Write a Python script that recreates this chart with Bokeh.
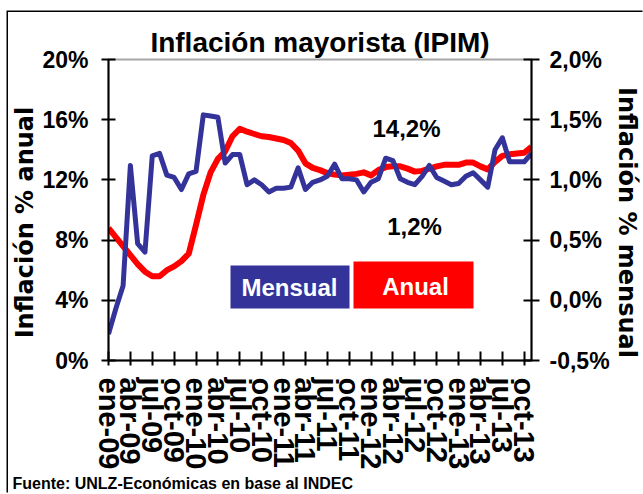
import math
from bokeh.plotting import figure
from bokeh.models import Range1d, LinearAxis, FixedTicker, Label, BoxAnnotation, ColumnDataSource, Title
from bokeh.embed import file_html
from bokeh.resources import INLINE

# ---------------- data ----------------
tick_labels = ["ene-09", "abr-09", "jul-09", "oct-09", "ene-10", "abr-10", "jul-10", "oct-10",
               "ene-11", "abr-11", "jul-11", "oct-11", "ene-12", "abr-12", "jul-12", "oct-12",
               "ene-13", "abr-13", "jul-13", "oct-13"]

# Inflación anual (% i.a.), ene-09 .. nov-13
anual = [8.8, 8.2, 7.6, 7.0, 6.4, 5.9, 5.6, 5.6, 6.0, 6.25, 6.6, 7.1,
         9.0, 11.0, 12.5, 13.4, 13.9, 14.9, 15.4, 15.2, 15.05, 14.9, 14.85, 14.75,
         14.65, 14.45, 13.95, 13.1, 12.8, 12.65, 12.45, 12.35, 12.3, 12.35, 12.4, 12.5,
         12.3, 12.65, 12.85, 12.9, 12.9, 12.75, 12.55, 12.6, 12.75, 12.9, 13.0, 13.0,
         13.0, 13.15, 13.15, 12.9, 12.7, 13.2, 13.6, 13.7, 13.75, 13.8, 14.2]

# Inflación mensual (%), ene-09 .. nov-13
mensual = [-0.28, -0.07, 0.12, 1.12, 0.47, 0.40, 1.20, 1.22, 1.04, 1.02, 0.92, 1.05,
           1.07, 1.54, 1.53, 1.52, 1.14, 1.21, 1.21, 0.96, 1.00, 0.96, 0.90, 0.93,
           0.93, 0.94, 1.10, 0.92, 0.98, 1.00, 1.03, 1.13, 1.01, 1.01, 1.00, 0.90,
           0.98, 1.01, 1.18, 1.16, 1.01, 0.98, 0.96, 1.03, 1.12, 1.02, 0.99, 0.96,
           0.97, 1.03, 1.06, 1.00, 0.94, 1.25, 1.35, 1.15, 1.15, 1.15, 1.22]

left_ticks = [0, 4, 8, 12, 16, 20]
left_labels = ["0%", "4%", "8%", "12%", "16%", "20%"]
right_ticks = [-0.5, 0.0, 0.5, 1.0, 1.5, 2.0]
right_labels = ["-0,5%", "0,0%", "0,5%", "1,0%", "1,5%", "2,0%"]

ultimo_anual = "14,2%"
ultimo_mensual = "1,2%"

# ---------------- figure ----------------
BLUE = "#333399"
RED = "#FF0000"
ARIAL = "Liberation Sans"
WIDE = "DejaVu Sans"
PAD = "\u00a0\u00a0\u00a0"

n = len(anual)
x = list(range(n))
src = ColumnDataSource(data=dict(x=x, anual=anual, mensual=mensual))

p = figure(frame_width=423, frame_height=301,
           min_border_left=99, min_border_right=113, min_border_top=47, min_border_bottom=134,
           x_range=Range1d(0, n - 1), y_range=Range1d(left_ticks[0], left_ticks[-1]),
           output_backend="svg", toolbar_location=None,
           title="Inflación mayorista (IPIM)",
           styles={"margin-left": "8px", "margin-top": "12px",
                   "box-shadow": "-1.5px -1.5px 0 0 black"})
p.extra_y_ranges = {"right": Range1d(right_ticks[0], right_ticks[-1])}

p.title.align = "center"
p.title.text_font = ARIAL
p.title.text_font_style = "bold"
p.title.text_font_size = "28px"
p.title.text_color = "black"
p.title.standoff = 4

p.xgrid.visible = False
p.ygrid.visible = False
p.outline_line_color = "#a6a6a6"
p.outline_line_width = 2
p.background_fill_color = "white"
p.border_fill_color = "white"

# x axis
xa = p.xaxis[0]
xa.ticker = FixedTicker(ticks=[3 * i for i in range(len(tick_labels))])
xa.major_label_overrides = {3 * i: lab for i, lab in enumerate(tick_labels)}
xa.major_label_orientation = "vertical"
xa.major_label_text_font = ARIAL
xa.major_label_text_font_style = "bold"
xa.major_label_text_font_size = "29px"
xa.major_label_text_color = "black"
xa.major_label_standoff = 12
xa.axis_line_width = 2
xa.axis_line_color = "black"
xa.major_tick_line_width = 2
xa.major_tick_line_color = "black"
xa.major_tick_in = 9
xa.major_tick_out = 5
xa.minor_tick_line_color = None

# left axis
ya = p.yaxis[0]
ya.ticker = FixedTicker(ticks=left_ticks)
ya.major_label_overrides = {t: l for t, l in zip(left_ticks, left_labels)}
ya.major_label_text_font = ARIAL
ya.major_label_text_font_style = "bold"
ya.major_label_text_font_size = "23px"
ya.major_label_text_color = "black"
ya.major_label_standoff = 13
ya.axis_line_width = 2
ya.axis_line_color = "black"
ya.major_tick_line_width = 2
ya.major_tick_line_color = "black"
ya.major_tick_in = 7
ya.major_tick_out = 7
ya.minor_tick_line_color = None
ya.axis_label = "Inflación % anual" + PAD
ya.axis_label_text_font = WIDE
ya.axis_label_text_font_style = "bold"
ya.axis_label_text_font_size = "24px"
ya.axis_label_text_color = "black"
ya.axis_label_standoff = 0

# right axis
ra = LinearAxis(y_range_name="right", ticker=FixedTicker(ticks=right_ticks))
ra.major_label_overrides = {t: l for t, l in zip(right_ticks, right_labels)}
ra.major_label_text_font = ARIAL
ra.major_label_text_font_style = "bold"
ra.major_label_text_font_size = "23px"
ra.major_label_text_color = "black"
ra.major_label_standoff = 10
ra.axis_line_width = 2
ra.axis_line_color = "black"
ra.major_tick_line_width = 2
ra.major_tick_line_color = "black"
ra.major_tick_in = 8
ra.major_tick_out = 8
ra.minor_tick_line_color = None
ra.axis_label = PAD + "Inflación % mensual"
ra.axis_label_text_font = WIDE
ra.axis_label_text_font_style = "bold"
ra.axis_label_text_font_size = "24px"
ra.axis_label_text_color = "black"
ra.axis_label_standoff = 0
p.add_layout(ra, "right")

# source note
p.add_layout(Title(text="Fuente: UNLZ-Económicas en base al INDEC", align="left", offset=-96,
                   text_font=ARIAL, text_font_style="bold", text_font_size="16px",
                   text_color="black", standoff=0), "below")

# lines
p.line("x", "anual", source=src, line_color=RED, line_width=6, line_join="round")
p.line("x", "mensual", source=src, line_color=BLUE, line_width=5, line_join="round",
       y_range_name="right")

# legend boxes
p.add_layout(BoxAnnotation(left=122, right=241, top=95, bottom=52,
                           left_units="screen", right_units="screen",
                           top_units="screen", bottom_units="screen",
                           fill_color=BLUE, fill_alpha=1, line_color=None))
p.add_layout(BoxAnnotation(left=245, right=365, top=99, bottom=52,
                           left_units="screen", right_units="screen",
                           top_units="screen", bottom_units="screen",
                           fill_color=RED, fill_alpha=1, line_color=None))


def lab(text, xs, ys, size, color="black"):
    p.add_layout(Label(x=xs, y=ys, x_units="screen", y_units="screen", text=text,
                       text_font=ARIAL, text_font_style="bold", text_font_size=size,
                       text_color=color, text_align="center", text_baseline="middle"))


lab("Mensual", 181, 73, "24px", color="white")
lab("Anual", 307, 74, "24px", color="white")
lab(ultimo_anual, 298, 232, "24px")
lab(ultimo_mensual, 306, 134, "24px")

open("out.html", "w").write(file_html(p, INLINE))
